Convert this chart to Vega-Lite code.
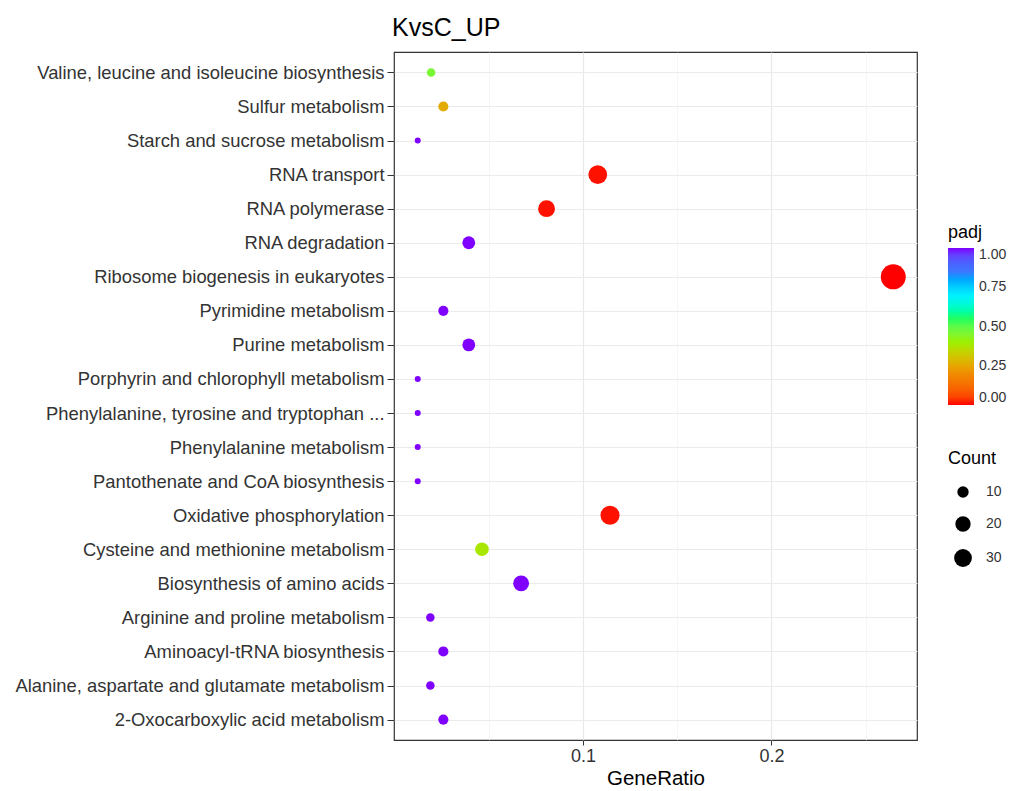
{
  "$schema": "https://vega.github.io/schema/vega-lite/v6.json",
  "autosize": {"type": "none"},
  "padding": {"left": 394, "top": 52, "right": 105, "bottom": 51},
  "width": 523,
  "height": 688,
  "background": "white",
  "title": {"text": "KvsC_UP", "anchor": "start", "frame": "group", "fontSize": 25, "font": "Liberation Sans", "fontWeight": "normal", "color": "#000", "offset": 11, "dx": -2},
  "config": {
    "font": "Liberation Sans",
    "view": {"stroke": "#333333", "strokeWidth": 1.2},
    "axis": {"gridColor": "#ebebeb", "domain": false, "labelColor": "#333", "tickColor": "#333", "titleColor": "#000", "titleFontWeight": "normal"}
  },
  "data": {"values": [
    {"pathway": "Valine, leucine and isoleucine biosynthesis", "GeneRatio": 0.0193, "Count": 6, "padj": 0.46},
    {"pathway": "Sulfur metabolism", "GeneRatio": 0.0258, "Count": 8, "padj": 0.26},
    {"pathway": "Starch and sucrose metabolism", "GeneRatio": 0.0122, "Count": 4, "padj": 1},
    {"pathway": "RNA transport", "GeneRatio": 0.1078, "Count": 35, "padj": 0.005},
    {"pathway": "RNA polymerase", "GeneRatio": 0.0806, "Count": 26, "padj": 0.005},
    {"pathway": "RNA degradation", "GeneRatio": 0.0393, "Count": 13, "padj": 1},
    {"pathway": "Ribosome biogenesis in eukaryotes", "GeneRatio": 0.2647, "Count": 87, "padj": 0},
    {"pathway": "Pyrimidine metabolism", "GeneRatio": 0.0258, "Count": 8, "padj": 1},
    {"pathway": "Purine metabolism", "GeneRatio": 0.0393, "Count": 13, "padj": 1},
    {"pathway": "Porphyrin and chlorophyll metabolism", "GeneRatio": 0.0122, "Count": 4, "padj": 1},
    {"pathway": "Phenylalanine, tyrosine and tryptophan ...", "GeneRatio": 0.0122, "Count": 4, "padj": 1},
    {"pathway": "Phenylalanine metabolism", "GeneRatio": 0.0122, "Count": 4, "padj": 1},
    {"pathway": "Pantothenate and CoA biosynthesis", "GeneRatio": 0.0122, "Count": 4, "padj": 1},
    {"pathway": "Oxidative phosphorylation", "GeneRatio": 0.1143, "Count": 37, "padj": 0.005},
    {"pathway": "Cysteine and methionine metabolism", "GeneRatio": 0.0463, "Count": 15, "padj": 0.38},
    {"pathway": "Biosynthesis of amino acids", "GeneRatio": 0.0671, "Count": 22, "padj": 1},
    {"pathway": "Arginine and proline metabolism", "GeneRatio": 0.0189, "Count": 6, "padj": 1},
    {"pathway": "Aminoacyl-tRNA biosynthesis", "GeneRatio": 0.0258, "Count": 8, "padj": 1},
    {"pathway": "Alanine, aspartate and glutamate metabolism", "GeneRatio": 0.0189, "Count": 6, "padj": 1},
    {"pathway": "2-Oxocarboxylic acid metabolism", "GeneRatio": 0.0258, "Count": 8, "padj": 1}
  ]},
  "mark": {"type": "circle", "opacity": 1},
  "encoding": {
    "y": {
      "field": "pathway", "type": "nominal", "sort": null,
      "scale": {"type": "point", "padding": 0.6},
      "axis": {"title": null, "grid": true, "labelFontSize": 18.4, "labelPadding": 3, "tickSize": 7, "tickWidth": 1, "gridWidth": 1, "gridColor": "#ebebeb", "labelLimit": 500}
    },
    "x": {
      "field": "GeneRatio", "type": "quantitative",
      "scale": {"domain": [-0.0004, 0.2773], "nice": false, "zero": false},
      "axis": {
        "title": "GeneRatio", "titleFontSize": 20.5, "titlePadding": 3,
        "values": [0.05, 0.1, 0.15, 0.2, 0.25],
        "labelExpr": "datum.value == 0.1 || datum.value == 0.2 ? datum.label : ''",
        "format": "~g", "labelFontSize": 18, "labelPadding": 2, "tickSize": 5,
        "tickColor": {"condition": {"test": "datum.value == 0.1 || datum.value == 0.2", "value": "#333"}, "value": "transparent"},
        "gridWidth": {"condition": {"test": "datum.value == 0.1 || datum.value == 0.2", "value": 1.2}, "value": 0.6},
        "gridColor": {"condition": {"test": "datum.value == 0.1 || datum.value == 0.2", "value": "#e8e8e8"}, "value": "#f0f0f0"}
      }
    },
    "color": {
      "field": "padj", "type": "quantitative",
      "scale": {"domain": [0, 0.2, 0.4, 0.55, 0.7, 0.85, 1], "range": ["#FF0000", "#F08C00", "#9BF000", "#20FF60", "#00F0FF", "#3C78FF", "#7F00FF"]},
      "legend": {
        "title": "padj", "orient": "none", "legendX": 554, "legendY": 172,
        "values": [0, 0.25, 0.5, 0.75, 1], "format": ".2f",
        "gradientLength": 157, "gradientThickness": 26, "gradientStrokeWidth": 0,
        "titleFontSize": 18, "titleFontWeight": "normal", "titleColor": "#000", "titlePadding": 6,
        "labelFontSize": 14, "labelColor": "#333", "labelOffset": 5
      }
    },
    "size": {
      "field": "Count", "type": "quantitative",
      "scale": {"type": "sqrt", "domain": [4, 87], "range": [36, 625], "zero": false},
      "legend": {
        "title": "Count", "orient": "none", "legendX": 554, "legendY": 398,
        "values": [10, 20, 30], "symbolType": "circle", "symbolFillColor": "#000", "symbolStrokeColor": "#000", "symbolStrokeWidth": 0, "symbolOpacity": 1, "symbolOffset": 6,
        "titleFontSize": 18, "titleFontWeight": "normal", "titleColor": "#000", "titlePadding": 17,
        "labelFontSize": 14, "labelColor": "#333", "labelOffset": 14, "rowPadding": 17
      }
    }
  }
}
